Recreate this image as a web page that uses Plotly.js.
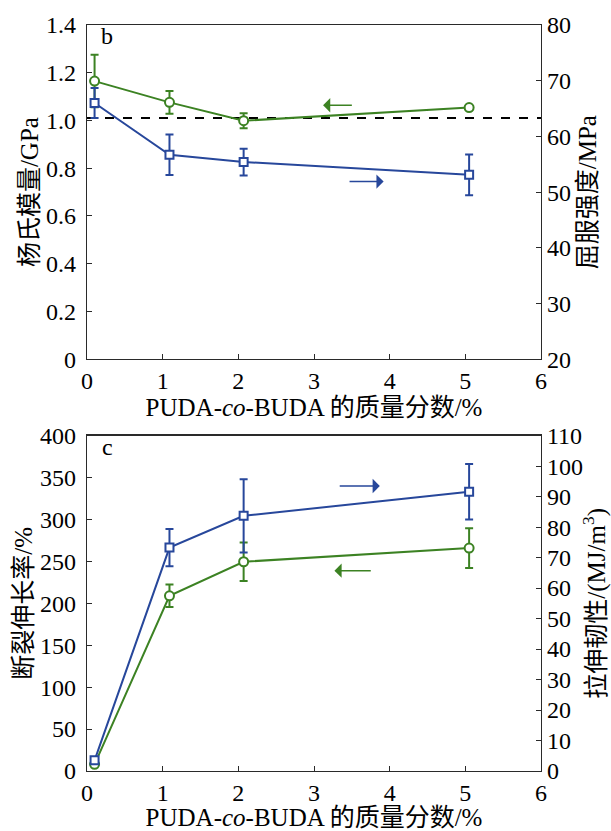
<!DOCTYPE html>
<html>
<head>
<meta charset="utf-8">
<script src="https://cdn.plot.ly/plotly-3.0.1.min.js"></script>
<style>html,body{margin:0;padding:0;background:#fff;}#chart{width:611px;height:831px;}</style>
</head>
<body>
<div id="chart"></div>
<script>
// ---- data ----
const xPos = [0.1, 1.09, 2.07, 5.05];          // PUDA-co-BUDA mass fraction (plotted positions)
const modulus = [1.165, 1.076, 0.999, 1.054];  // Young's modulus, GPa (left, panel b)
const modulusErr = [0.11, 0.048, 0.031, 0.008];
const yieldStrength = [66.0, 56.7, 55.4, 53.1]; // yield strength, MPa (right, panel b)
const yieldErr = [2.7, 3.65, 2.4, 3.65];
const elongation = [8, 209, 249.6, 265.9];     // elongation at break, % (left, panel c)
const elongErr = [2, 13.5, 23, 23.7];
const toughness = [3.5, 73.3, 83.7, 91.6];     // tensile toughness, MJ/m3 (right, panel c)
const toughErr = [1, 6.1, 12, 9.1];
const refLine = 1.01;                          // dashed reference level (GPa)

const xTicks = [0, 1, 2, 3, 4, 5, 6];
const modTicks = [0, 0.2, 0.4, 0.6, 0.8, 1.0, 1.2, 1.4];
const modTickText = ['0', '0.2', '0.4', '0.6', '0.8', '1.0', '1.2', '1.4'];
const yieldTicks = [20, 30, 40, 50, 60, 70, 80];
const elongTicks = [0, 50, 100, 150, 200, 250, 300, 350, 400];
const toughTicks = [0, 10, 20, 30, 40, 50, 60, 70, 80, 90, 100, 110];

// arrow positions [headX, headY, tailX, tailY] in data units
const arrowB_green = [3.12, 1.064, 3.52, 1.064];
const arrowB_blue = [3.92, 0.744, 3.45, 0.744];
const arrowC_blue = [3.87, 340, 3.32, 340];
const arrowC_green = [3.27, 239, 3.77, 239];

const GREEN = '#3c8223';
const BLUE = '#27479b';
const FONT = 'Liberation Serif, Times New Roman, Noto Sans CJK SC, serif';
const AX = '#2a2a2a';

function circleTrace(y, err, xa, ya) {
  return {
    x: xPos, y: y, xaxis: xa, yaxis: ya, type: 'scatter', mode: 'lines+markers',
    line: {color: GREEN, width: 2},
    marker: {symbol: 'circle', size: 9, color: '#fff', line: {color: GREEN, width: 2}},
    error_y: {type: 'data', array: err, visible: true, color: GREEN, thickness: 2, width: 4},
    showlegend: false, hoverinfo: 'skip', cliponaxis: false
  };
}
function squareTrace(y, err, xa, ya) {
  return {
    x: xPos, y: y, xaxis: xa, yaxis: ya, type: 'scatter', mode: 'lines+markers',
    line: {color: BLUE, width: 2},
    marker: {symbol: 'square', size: 8, color: '#fff', line: {color: BLUE, width: 2}},
    error_y: {type: 'data', array: err, visible: true, color: BLUE, thickness: 2, width: 4},
    showlegend: false, hoverinfo: 'skip', cliponaxis: false
  };
}

const traces = [
  squareTrace(yieldStrength, yieldErr, 'x', 'y2'),
  circleTrace(modulus, modulusErr, 'x', 'y'),
  squareTrace(toughness, toughErr, 'x2', 'y4'),
  circleTrace(elongation, elongErr, 'x2', 'y3')
];

const tickFont = {family: FONT, size: 24, color: '#000'};
const titleFont = {family: FONT, size: 25, color: '#000'};
const xTitle = 'PUDA-<i>co</i>-BUDA 的质量分数/%';

function xAxis(anchor) {
  return {
    anchor: anchor, domain: [0, 1], range: [0, 6], tickvals: xTicks, ticktext: xTicks.map(String),
    ticks: 'inside', ticklen: 5, tickwidth: 1, tickcolor: AX,
    showline: true, linecolor: AX, linewidth: 1.2, mirror: true,
    showgrid: false, zeroline: false, tickfont: tickFont,
    title: {text: xTitle, font: titleFont, standoff: 1}
  };
}
function yAxis(domain, range, vals, text, title, side, anchor, overlay) {
  const a = {
    domain: domain, range: range, tickvals: vals, ticktext: text,
    ticks: 'inside', ticklen: 5, tickwidth: 1, tickcolor: AX,
    showline: true, linecolor: AX, linewidth: 1.2,
    showgrid: false, zeroline: false, tickfont: tickFont, side: side, anchor: anchor,
    ticklabelstandoff: side === 'left' ? 5 : 0,
    title: {text: title, font: titleFont, standoff: side === 'left' ? 0 : 8}
  };
  if (overlay) a.overlaying = overlay;
  return a;
}

const topDom = [0.552, 1];
const botDom = [0, 0.4495];

function arrow(a, xr, yr, color) {
  return {x: a[0], y: a[1], ax: a[2], ay: a[3], xref: xr, yref: yr, axref: xr, ayref: yr,
    text: '', showarrow: true, arrowhead: 1, arrowsize: 1.6, arrowwidth: 1.5, arrowcolor: color};
}

const layout = {
  width: 611, height: 831,
  margin: {l: 87, r: 70, t: 25, b: 60},
  paper_bgcolor: '#fff', plot_bgcolor: '#fff',
  font: {family: FONT, size: 22, color: '#000'},
  xaxis: xAxis('y'),
  xaxis2: xAxis('y3'),
  yaxis: yAxis(topDom, [0, 1.4], modTicks, modTickText, '杨氏模量/GPa', 'left', 'x'),
  yaxis2: yAxis(topDom, [20, 80], yieldTicks, yieldTicks.map(String), '屈服强度/MPa', 'right', 'x', 'y'),
  yaxis3: yAxis(botDom, [0, 400], elongTicks, elongTicks.map(String), '断裂伸长率/%', 'left', 'x2'),
  yaxis4: yAxis(botDom, [0, 110], toughTicks, toughTicks.map(String), '拉伸韧性/(MJ/m<sup>3</sup>)', 'right', 'x2', 'y3'),
  shapes: [
    {type: 'line', xref: 'x', yref: 'y', x0: 0, x1: 6, y0: refLine, y1: refLine,
     line: {color: '#000', width: 2, dash: 'dash'}, layer: 'below'}
  ],
  annotations: [
    {text: 'b', xref: 'paper', yref: 'paper', x: 0.045, y: 0.985, xanchor: 'center', yanchor: 'middle',
     showarrow: false, font: {family: FONT, size: 24, color: '#000'}},
    {text: 'c', xref: 'paper', yref: 'paper', x: 0.045, y: 0.4345, xanchor: 'center', yanchor: 'middle',
     showarrow: false, font: {family: FONT, size: 24, color: '#000'}},
    arrow(arrowB_green, 'x', 'y', GREEN),
    arrow(arrowB_blue, 'x', 'y', BLUE),
    arrow(arrowC_blue, 'x2', 'y3', BLUE),
    arrow(arrowC_green, 'x2', 'y3', GREEN)
  ]
};

Plotly.newPlot('chart', traces, layout, {displayModeBar: false, staticPlot: true});
</script>
</body>
</html>
